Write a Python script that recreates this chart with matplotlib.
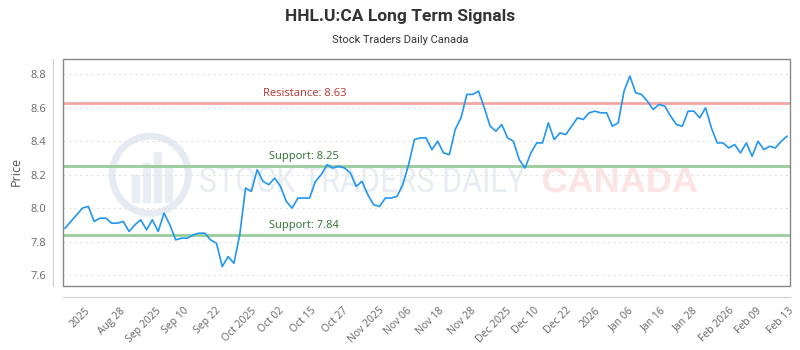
import numpy as np
import matplotlib.pyplot as plt
from matplotlib.patches import Rectangle, Ellipse, PathPatch
from matplotlib.textpath import TextPath
from matplotlib.font_manager import FontProperties
import matplotlib.transforms as mtransforms

plt.rcParams['font.family'] = ['Open Sans', 'DejaVu Sans']

# 收盘价（按交易日顺序读取）
prices = [7.88, 7.92, 7.96, 8.00, 8.01, 7.92, 7.94, 7.94, 7.91, 7.91,
          7.92, 7.86, 7.90, 7.93, 7.87, 7.93, 7.86, 7.97, 7.90, 7.81,
          7.82, 7.82, 7.84, 7.85, 7.85, 7.81, 7.79, 7.65, 7.71, 7.67,
          7.84, 8.12, 8.10, 8.23, 8.16, 8.14, 8.18, 8.13, 8.04, 8.00,
          8.06, 8.06, 8.06, 8.16, 8.20, 8.26, 8.24, 8.25, 8.24, 8.21,
          8.13, 8.16, 8.08, 8.02, 8.01, 8.06, 8.06, 8.07, 8.14, 8.26,
          8.41, 8.42, 8.42, 8.35, 8.40, 8.33, 8.32, 8.47, 8.54, 8.68,
          8.68, 8.70, 8.60, 8.49, 8.46, 8.50, 8.42, 8.40, 8.29, 8.24,
          8.33, 8.39, 8.39, 8.51, 8.41, 8.45, 8.44, 8.49, 8.54, 8.53,
          8.57, 8.58, 8.57, 8.57, 8.49, 8.51, 8.70, 8.79, 8.69, 8.68,
          8.64, 8.59, 8.62, 8.61, 8.55, 8.50, 8.49, 8.58, 8.58, 8.54,
          8.60, 8.48, 8.39, 8.39, 8.36, 8.38, 8.33, 8.39, 8.31, 8.40,
          8.35, 8.37, 8.36, 8.40, 8.43]

tick_labels = ['2025', 'Aug 28', 'Sep 2025', 'Sep 10', 'Sep 22', 'Oct 2025',
               'Oct 02', 'Oct 15', 'Oct 27', 'Nov 2025', 'Nov 06', 'Nov 18',
               'Nov 28', 'Dec 2025', 'Dec 10', 'Dec 22', '2026', 'Jan 06',
               'Jan 16', 'Jan 28', 'Feb 2026', 'Feb 09', 'Feb 13']

resistance = 8.63
supports = [8.25, 7.84]

fig = plt.figure(figsize=(8, 3.5), dpi=100)
ax = fig.add_axes([63 / 800, 1 - 286 / 350, 727 / 800, 227 / 350])

x = np.arange(len(prices))
ax.plot(x, prices, color='#2196f3', lw=1.2, zorder=5)

ax.set_xlim(-0.35, len(prices) - 0.5)
ax.set_ylim(7.534, 8.892)

# 阻力线 / 支撑线
trans = mtransforms.blended_transform_factory(ax.transAxes, ax.transData)
ax.axhline(resistance, color='#f4a6a2', lw=2, zorder=3)
ax.text(0.332, resistance + 0.025, 'Resistance: %.2f' % resistance, color='#b8312b',
        fontsize=8, ha='center', va='bottom', transform=trans, zorder=6)
for s in supports:
    ax.axhline(s, color='#98cc98', lw=2, zorder=3)
    ax.text(0.332, s + 0.025, 'Support: %.2f' % s, color='#2e7031',
            fontsize=8, ha='center', va='bottom', transform=trans, zorder=6)

# 水印 (像素坐标, 压扁的文字)
def watermark(text, x0, base, cap_px, width_px, color, prop):
    tp = TextPath((0, 0), text, size=100, prop=prop)
    ext = tp.get_extents()
    cap = TextPath((0, 0), 'H', size=100, prop=prop).get_extents().height
    sy = cap_px / cap
    sx = width_px / ext.width
    tr = mtransforms.Affine2D().translate(-ext.x0, 0).scale(sx, sy).translate(x0, 350 - base)
    ax.add_patch(PathPatch(tp, transform=tr, fc=color, ec='none', zorder=1, clip_on=False))

ax.add_patch(Ellipse((0.12, 0.49), 0.105, 0.34, transform=ax.transAxes,
                     fill=False, ec='#e6ebf3', lw=5, zorder=1))
for bx, bh in zip([0.095, 0.11, 0.125, 0.14], [0.12, 0.17, 0.22, 0.15]):
    ax.add_patch(Rectangle((bx, 0.37), 0.01, bh, transform=ax.transAxes,
                           color='#e9eef5', zorder=1))
watermark('STOCK TRADERS DAILY', 200, 192, 25, 325, '#e8ecf3',
          FontProperties(family='Roboto'))
watermark('CANADA', 543, 192, 24, 154, '#fde4e4',
          FontProperties(family='Liberation Sans', weight='bold'))

# 网格
ax.set_yticks([7.6, 7.8, 8.0, 8.2, 8.4, 8.6, 8.8])
ax.grid(axis='y', color='#e3e3e3', lw=0.8, linestyle=(0, (2, 3)), zorder=0)
ax.set_xticks(np.linspace(2.6, 122.9, len(tick_labels)))
ax.set_xticklabels(tick_labels)
ax.tick_params(axis='x', length=0, pad=6, labelsize=7.5, labelcolor='#666666',
               labelrotation=45)
ax.tick_params(axis='y', length=0, pad=5, labelsize=8, labelcolor='#666666')
plt.setp(ax.get_xticklabels(), ha='right', rotation_mode='anchor')

for side in ['top', 'right']:
    ax.spines[side].set_visible(False)
ax.spines['left'].set_position(('outward', 7.2))
ax.spines['bottom'].set_position(('outward', 7.9))
ax.spines['left'].set_color('#cccccc')
ax.spines['bottom'].set_color('#cccccc')
ax.add_patch(Rectangle((0, 0), 1, 1, transform=ax.transAxes, fill=False,
                       ec='#888888', lw=1, clip_on=False, zorder=7))

fig.text(0.02, 0.509, 'Price', rotation=90, ha='center', va='center',
         fontsize=9, color='#555555')
fig.text(0.5, 0.953, 'HHL.U:CA Long Term Signals', ha='center', va='center',
         fontsize=12.5, fontweight='bold', color='#333333',
         family=['Roboto', 'DejaVu Sans'])
fig.text(0.5, 0.886, 'Stock Traders Daily Canada', ha='center', va='center',
         fontsize=8, color='#333333', family=['Roboto', 'DejaVu Sans'])

fig.savefig('out.png', dpi=100)
